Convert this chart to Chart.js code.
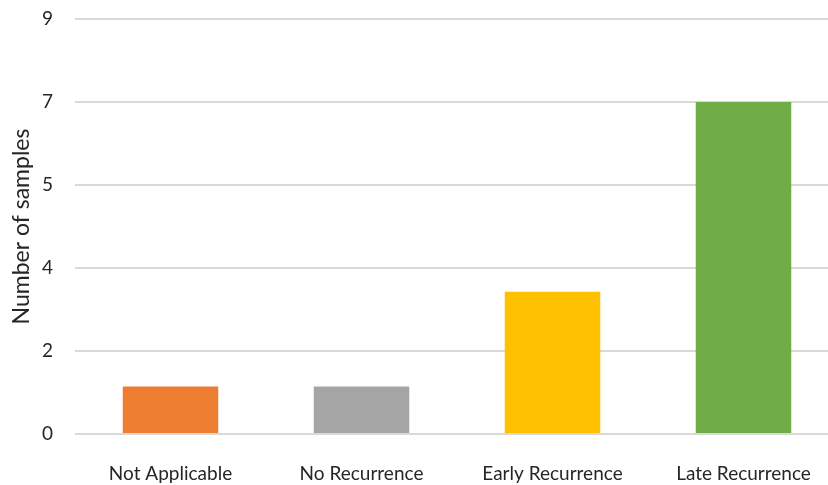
<!DOCTYPE html>
<html>
<head>
<meta charset="utf-8">
<script src="https://cdn.jsdelivr.net/npm/chart.js@4/dist/chart.umd.min.js"></script>
<style>
  html, body { margin: 0; padding: 0; background: #fff; overflow: hidden; width: 828px; height: 485px; }
  #wrap { width: 840px; height: 485px; position: relative; }
</style>
</head>
<body>
<div id="wrap"><canvas id="c" width="840" height="485"></canvas></div>
<script>
const categories = ['Not Applicable', 'No Recurrence', 'Early Recurrence', 'Late Recurrence'];
const sampleCounts = [1, 1, 3, 7];
const barColors = ['#ED7D31', '#A5A5A5', '#FFC000', '#70AD47'];
const yTickValues = [0, 1.75, 3.5, 5.25, 7, 8.75];
const yTickLabels = ['0', '2', '4', '5', '7', '9'];
const yAxisTitle = 'Number of samples';

const FONT = 'Lato, "Open Sans", sans-serif';

new Chart(document.getElementById('c'), {
  type: 'bar',
  data: {
    labels: categories,
    datasets: [{
      data: sampleCounts,
      backgroundColor: barColors,
      borderWidth: 0,
      categoryPercentage: 1.0,
      barPercentage: 0.5
    }]
  },
  options: {
    responsive: false,
    animation: false,
    devicePixelRatio: 1,
    layout: { padding: { left: 0, right: 1, top: 0, bottom: 0 } },
    plugins: { legend: { display: false }, tooltip: { enabled: false } },
    scales: {
      x: {
        grid: { display: false, drawTicks: false },
        border: { display: false },
        ticks: { color: '#262626', font: { family: FONT, size: 19 }, padding: 28, maxRotation: 0, autoSkip: false },
        afterFit: (axis) => { axis.height = 51; axis.paddingTop = 0; axis.paddingBottom = 0; }
      },
      y: {
        min: 0,
        max: 8.75,
        afterBuildTicks: (axis) => { axis.ticks = yTickValues.map(v => ({ value: v })); },
        afterFit: (axis) => { axis.width = 75; axis.paddingTop = 19; axis.paddingBottom = 0; },
        grid: { color: '#D9D9D9', lineWidth: 2, drawTicks: false },
        border: { display: false },
        ticks: {
          color: '#262626',
          font: { family: FONT, size: 19 },
          padding: 22,
          callback: (value) => {
            const i = yTickValues.indexOf(value);
            return i >= 0 ? yTickLabels[i] : '';
          }
        },
        title: {
          display: true,
          text: yAxisTitle,
          color: '#262626',
          font: { family: FONT, size: 23 },
          padding: { top: 8, bottom: 0 }
        }
      }
    }
  }
});
</script>
</body>
</html>
